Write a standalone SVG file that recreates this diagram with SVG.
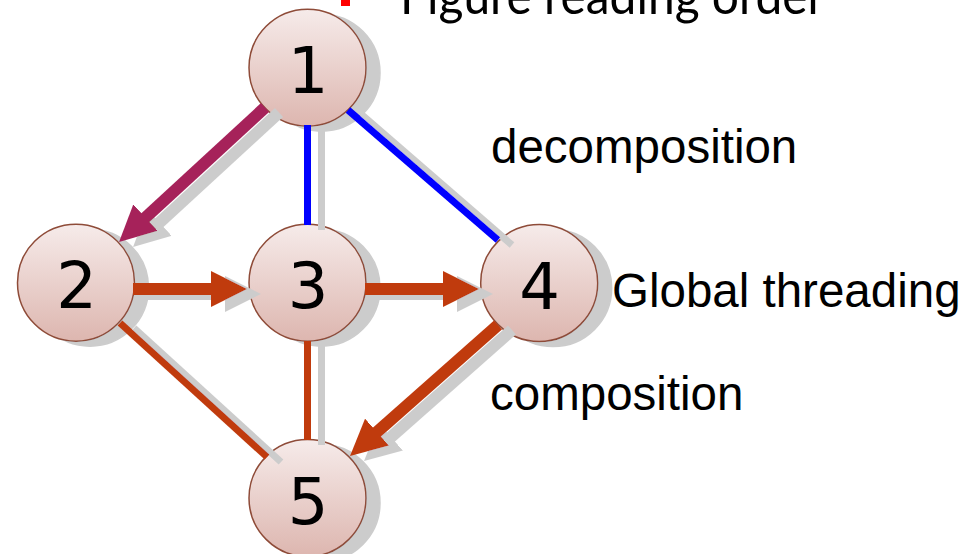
<svg xmlns="http://www.w3.org/2000/svg" width="975" height="554" viewBox="0 0 975 554">
<style>
.node{fill:url(#nf);stroke:#8E4B38;stroke-width:1.5}
.num{font-family:"DejaVu Sans",sans-serif;font-size:64px;fill:#000;text-anchor:middle}
.lbl{font-family:"Liberation Sans",Arial,sans-serif;font-size:47.5px;fill:#000}
.blue{stroke:#0000FF;stroke-width:7;fill:none}
.org{stroke:#C03B10;stroke-width:7;fill:none}
.arr-o{stroke:#C03B10;stroke-width:12;fill:none;marker-end:url(#ah-o)}
.arr-p{stroke:#A6245A;stroke-width:12;fill:none;marker-end:url(#ah-p)}
</style>
<defs>
<linearGradient id="nf" x1="0" y1="0" x2="0" y2="1">
<stop offset="0" stop-color="#F6EBEA"/>
<stop offset="1" stop-color="#DDB6AF"/>
</linearGradient>
<filter id="sh" x="-20%" y="-20%" width="150%" height="150%">
<feOffset in="SourceAlpha" dx="14" dy="5" result="o"/>
<feFlood flood-color="#CCCCCC"/>
<feComposite in2="o" operator="in" result="s"/>
<feMerge><feMergeNode in="s"/><feMergeNode in="SourceGraphic"/></feMerge>
</filter>
<marker id="ah-o" markerUnits="userSpaceOnUse" viewBox="0 0 36 36" markerWidth="36" markerHeight="36" refX="6" refY="18" orient="auto"><path d="M0,0 L36,18 L0,36 Z" fill="#C03B10"/></marker>
<marker id="ah-p" markerUnits="userSpaceOnUse" viewBox="0 0 36 36" markerWidth="36" markerHeight="36" refX="6" refY="18" orient="auto"><path d="M0,0 L36,18 L0,36 Z" fill="#A6245A"/></marker>
</defs>
<rect width="975" height="554" fill="#FFFFFF"/>
<text x="339" y="24" font-family="Lato,sans-serif" font-weight="bold" font-size="70" fill="#FF0000" textLength="13" lengthAdjust="spacingAndGlyphs">-</text>
<text x="400" y="14" font-family="Lato,sans-serif" font-size="51" fill="#000" textLength="425" lengthAdjust="spacingAndGlyphs">Figure reading order</text>
<g id="node1" filter="url(#sh)"><circle class="node" cx="307.5" cy="67.7" r="58.5"/><text class="num" x="308" y="93.3">1</text></g>
<g id="node2" filter="url(#sh)"><circle class="node" cx="76" cy="282.7" r="58.5"/><text class="num" x="76.5" y="308.3">2</text></g>
<g id="node3" filter="url(#sh)"><circle class="node" cx="307.5" cy="282.7" r="58.5"/><text class="num" x="308" y="308.3">3</text></g>
<g id="node4" filter="url(#sh)"><circle class="node" cx="539.2" cy="283" r="58.5"/><text class="num" x="539.7" y="308.6">4</text></g>
<g id="node5" filter="url(#sh)"><circle class="node" cx="307.5" cy="498" r="58.5"/><text class="num" x="308" y="523.6">5</text></g>
<g id="connectors" filter="url(#sh)">
<line class="blue" x1="307.5" y1="125" x2="307.5" y2="225"/>
<line class="blue" x1="348" y1="110" x2="498" y2="240"/>
<line class="org" x1="120" y1="323" x2="267" y2="457"/>
<line class="org" x1="307.5" y1="341" x2="307.5" y2="440"/>
<line class="arr-p" x1="265" y1="107.5" x2="141.1" y2="221.7"/>
<line class="arr-o" x1="133" y1="289" x2="217" y2="289"/>
<line class="arr-o" x1="365" y1="289" x2="449" y2="289"/>
<line class="arr-o" x1="498" y1="325" x2="372.5" y2="436.1"/>
</g>
<text class="lbl" x="491" y="163">decomposition</text>
<text class="lbl" x="612" y="307">Global threading</text>
<text class="lbl" x="490" y="410">composition</text>
</svg>
